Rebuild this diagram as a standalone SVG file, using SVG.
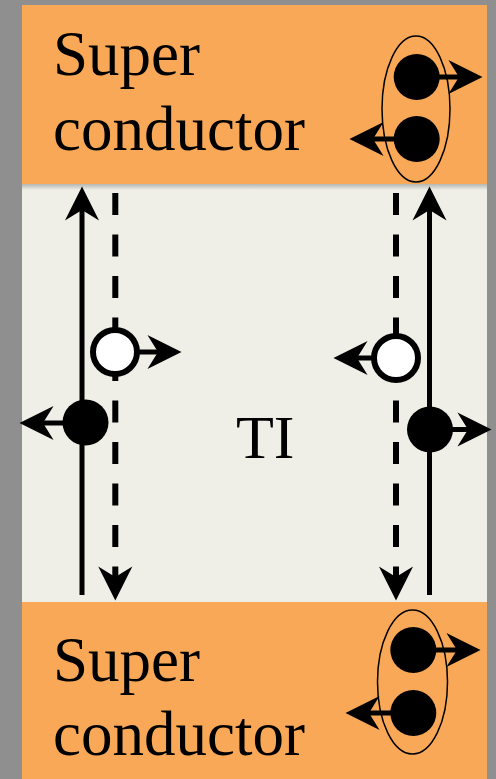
<svg xmlns="http://www.w3.org/2000/svg" width="496" height="779" viewBox="0 0 496 779">
<style>
.sc{fill:#f9a857}
.ti{fill:#efefe7}
.lbl{font-family:"Liberation Serif","Times New Roman",serif;font-size:63px;fill:#000}
.ln{stroke:#000;stroke-width:5;fill:none}
.dash{stroke:#000;stroke-width:6;fill:none;stroke-dasharray:22 19.5}
.ar{stroke:#000;stroke-width:5;fill:none;marker-end:url(#ah)}
.dot{fill:#000}
.hole{fill:#fff;stroke:#000;stroke-width:6}
.pair{fill:none;stroke:#000;stroke-width:1.5}
</style>
<defs>
<marker id="ah" markerUnits="userSpaceOnUse" markerWidth="40" markerHeight="40" refX="9" refY="0" viewBox="-2 -16 34 32" orient="auto" overflow="visible">
<path d="M0,-14.5 L29,0 L0,14.5 L9,0 Z" fill="#000"/>
</marker>
<linearGradient id="sh" x1="0" y1="0" x2="0" y2="1">
<stop offset="0" stop-color="#8f8f8f" stop-opacity="0.6"/>
<stop offset="1" stop-color="#8f8f8f" stop-opacity="0"/>
</linearGradient>
</defs>
<rect x="0" y="0" width="496" height="779" fill="#8f8f8f"/>
<g id="ti-panel">
<rect class="ti" x="22" y="184" width="465" height="418"/>
<rect x="22" y="184" width="465" height="6" fill="url(#sh)"/>
<text class="lbl" x="236" y="458" style="font-size:62px">TI</text>
</g>
<g id="sc-top">
<rect class="sc" x="22" y="5" width="465" height="179"/>
<text class="lbl" x="53" y="75">Super</text>
<text class="lbl" x="53" y="150">conductor</text>
</g>
<g id="sc-bottom">
<rect class="sc" x="22" y="602" width="465" height="177"/>
<text class="lbl" x="53" y="681">Super</text>
<text class="lbl" x="53" y="755">conductor</text>
</g>
<g id="connectors">
<line class="ln" x1="82" y1="595" x2="82" y2="210" marker-end="url(#ah)"/>
<line class="ln" x1="429.5" y1="595" x2="429.5" y2="210" marker-end="url(#ah)"/>
<line class="dash" x1="115.3" y1="193" x2="115.3" y2="577" marker-end="url(#ah)"/>
<line class="dash" x1="396" y1="193" x2="396" y2="577" marker-end="url(#ah)"/>
<line class="ar" x1="115" y1="352" x2="158" y2="352"/>
<line class="ar" x1="86" y1="423" x2="43" y2="423"/>
<line class="ar" x1="396" y1="358" x2="357" y2="358"/>
<line class="ar" x1="430" y1="429.5" x2="468" y2="429.5"/>
<line class="ar" x1="416.7" y1="77" x2="459" y2="77"/>
<line class="ar" x1="416.7" y1="139" x2="373" y2="139"/>
<line class="ar" x1="413" y1="650" x2="457" y2="650"/>
<line class="ar" x1="413" y1="713" x2="369" y2="713"/>
</g>
<g id="hole-left"><circle class="hole" cx="115" cy="352" r="22"/></g>
<g id="electron-left"><circle class="dot" cx="85.5" cy="422.5" r="23"/></g>
<g id="hole-right"><circle class="hole" cx="396" cy="358" r="22"/></g>
<g id="electron-right"><circle class="dot" cx="430" cy="429.5" r="23"/></g>
<g id="pair-top">
<circle class="dot" cx="416.7" cy="77" r="23"/>
<circle class="dot" cx="416.7" cy="139" r="23"/>
<ellipse class="pair" cx="416" cy="109" rx="34" ry="73"/>
</g>
<g id="pair-bottom">
<circle class="dot" cx="413.3" cy="650" r="23"/>
<circle class="dot" cx="413.3" cy="713" r="23"/>
<ellipse class="pair" cx="412.5" cy="682" rx="35" ry="72"/>
</g>
</svg>
